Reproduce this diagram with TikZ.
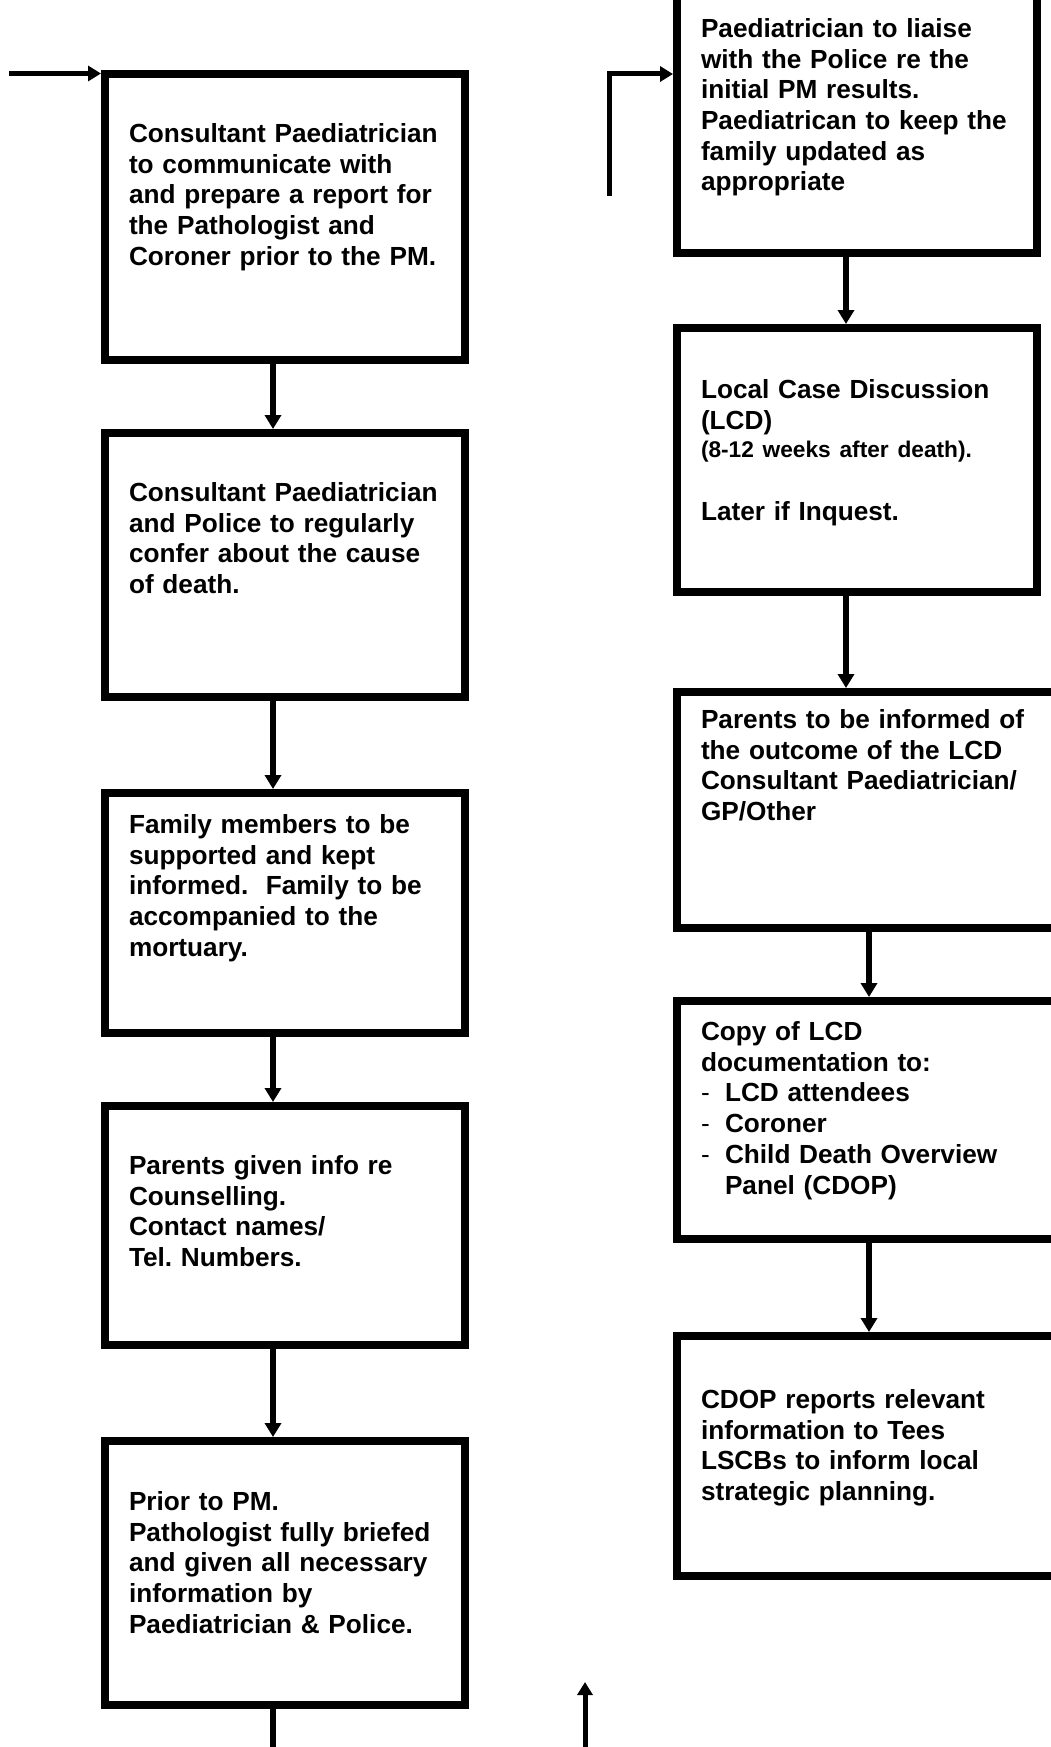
\documentclass[tikz,border=0pt]{standalone}
\usepackage{fontspec}
\setmainfont{Liberation Sans}
\usetikzlibrary{arrows.meta, positioning}
\frenchspacing

\begin{document}
\begin{tikzpicture}[x=1pt, y=-1pt,
    flowbox/.style={draw, line width=8pt, anchor=north west, align=left,
        text width=312pt, inner xsep=24pt, inner ysep=0pt,
        font=\fontsize{26.2}{30.7}\selectfont\bfseries},
    widebox/.style={flowbox, text width=359pt},
    link/.style={line width=6pt, -{Triangle[length=14pt, width=16pt]}},
    feed/.style={line width=5pt, -{Triangle[length=13pt, width=15pt]}}]

    \useasboundingbox (0,0) rectangle (1051,1747);
    \clip (0,0) rectangle (1051,1747);

    % colonnes des connecteurs
    \coordinate (lcol) at (273,0);
    \coordinate (rcolA) at (846,0);
    \coordinate (rcolB) at (869,0);

    % Colonne de gauche
    \node[flowbox, text height=68.5pt, text depth=217.5pt] (b1) at (101,70)
        {Consultant Paediatrician\\ to communicate with\\ and prepare a report for\\ the Pathologist and\\ Coroner prior to the PM.};
    \node[flowbox, text height=68.5pt, text depth=195.5pt] (b2) at (101,429)
        {Consultant Paediatrician\\ and Police to regularly\\ confer about the cause\\ of death.};
    \node[flowbox, text height=40.5pt, text depth=199.5pt] (b3) at (101,789)
        {Family members to be\\ supported and kept\\ informed.\ \ Family to be\\ accompanied to the\\ mortuary.};
    \node[flowbox, text height=68.5pt, text depth=170.5pt] (b4) at (101,1102)
        {Parents given info re\\ Counselling.\\ Contact names/\\ Tel. Numbers.};
    \node[flowbox, text height=69.5pt, text depth=194.5pt] (b5) at (101,1437)
        {Prior to PM.\\ Pathologist fully briefed\\ and given all necessary\\ information by\\ Paediatrician \& Police.};

    % Colonne de droite
    \node[flowbox, text height=68.5pt, text depth=215.5pt] (r1) at (673,-35)
        {Paediatrician to liaise\\ with the Police re the\\ initial PM results.\\ Paediatrican to keep the\\ family updated as\\ appropriate};
    \node[flowbox, text height=70.5pt, text depth=193.5pt] (r2) at (673,324)
        {Local Case Discussion\\ (LCD)\\[-2pt]
         {\fontsize{22.7}{28}\selectfont (8-12 weeks after death).}\\[32pt]
         Later if Inquest.};
    \node[widebox, text height=36.5pt, text depth=199.5pt] (r3) at (673,688)
        {Parents to be informed of\\ the outcome of the LCD\\ Consultant Paediatrician/\\ GP/Other};
    \node[widebox, text height=39.5pt, text depth=198.5pt] (r4) at (673,997)
        {Copy of LCD\\ documentation to:\\
         \makebox[24pt][l]{\mdseries -}LCD attendees\\
         \makebox[24pt][l]{\mdseries -}Coroner\\
         \makebox[24pt][l]{\mdseries -}Child Death Overview\\
         \hspace*{24pt}Panel (CDOP)};
    \node[widebox, text height=72.5pt, text depth=167.5pt] (r5) at (673,1332)
        {CDOP reports relevant\\ information to Tees\\ LSCBs to inform local\\ strategic planning.};

    % Flèches entre les cases
    \foreach \a/\b in {b1/b2, b2/b3, b3/b4, b4/b5}{
        \draw[link] (\a.south -| lcol) -- (\b.north -| lcol);
    }
    \foreach \a/\b/\c in {r1/r2/rcolA, r2/r3/rcolA, r3/r4/rcolB, r4/r5/rcolB}{
        \draw[link] (\a.south -| \c) -- (\b.north -| \c);
    }
    \coordinate (b5out) at (273,1760);
    \draw[line width=6pt] (b5.south -| lcol) -- (b5out);

    % Entrées et sortie hors page
    \coordinate (inL) at (9,73.5);
    \draw[feed] (inL) -- (inL -| b1.west);
    \coordinate (inR) at (609,196);
    \coordinate (inRbend) at (609,74);
    \draw[feed] (inR) -- (inRbend) -- (inRbend -| r1.west);
    \coordinate (upfoot) at (585,1760);
    \coordinate (uptip) at (585,1682);
    \draw[feed] (upfoot) -- (uptip);
\end{tikzpicture}
\end{document}
